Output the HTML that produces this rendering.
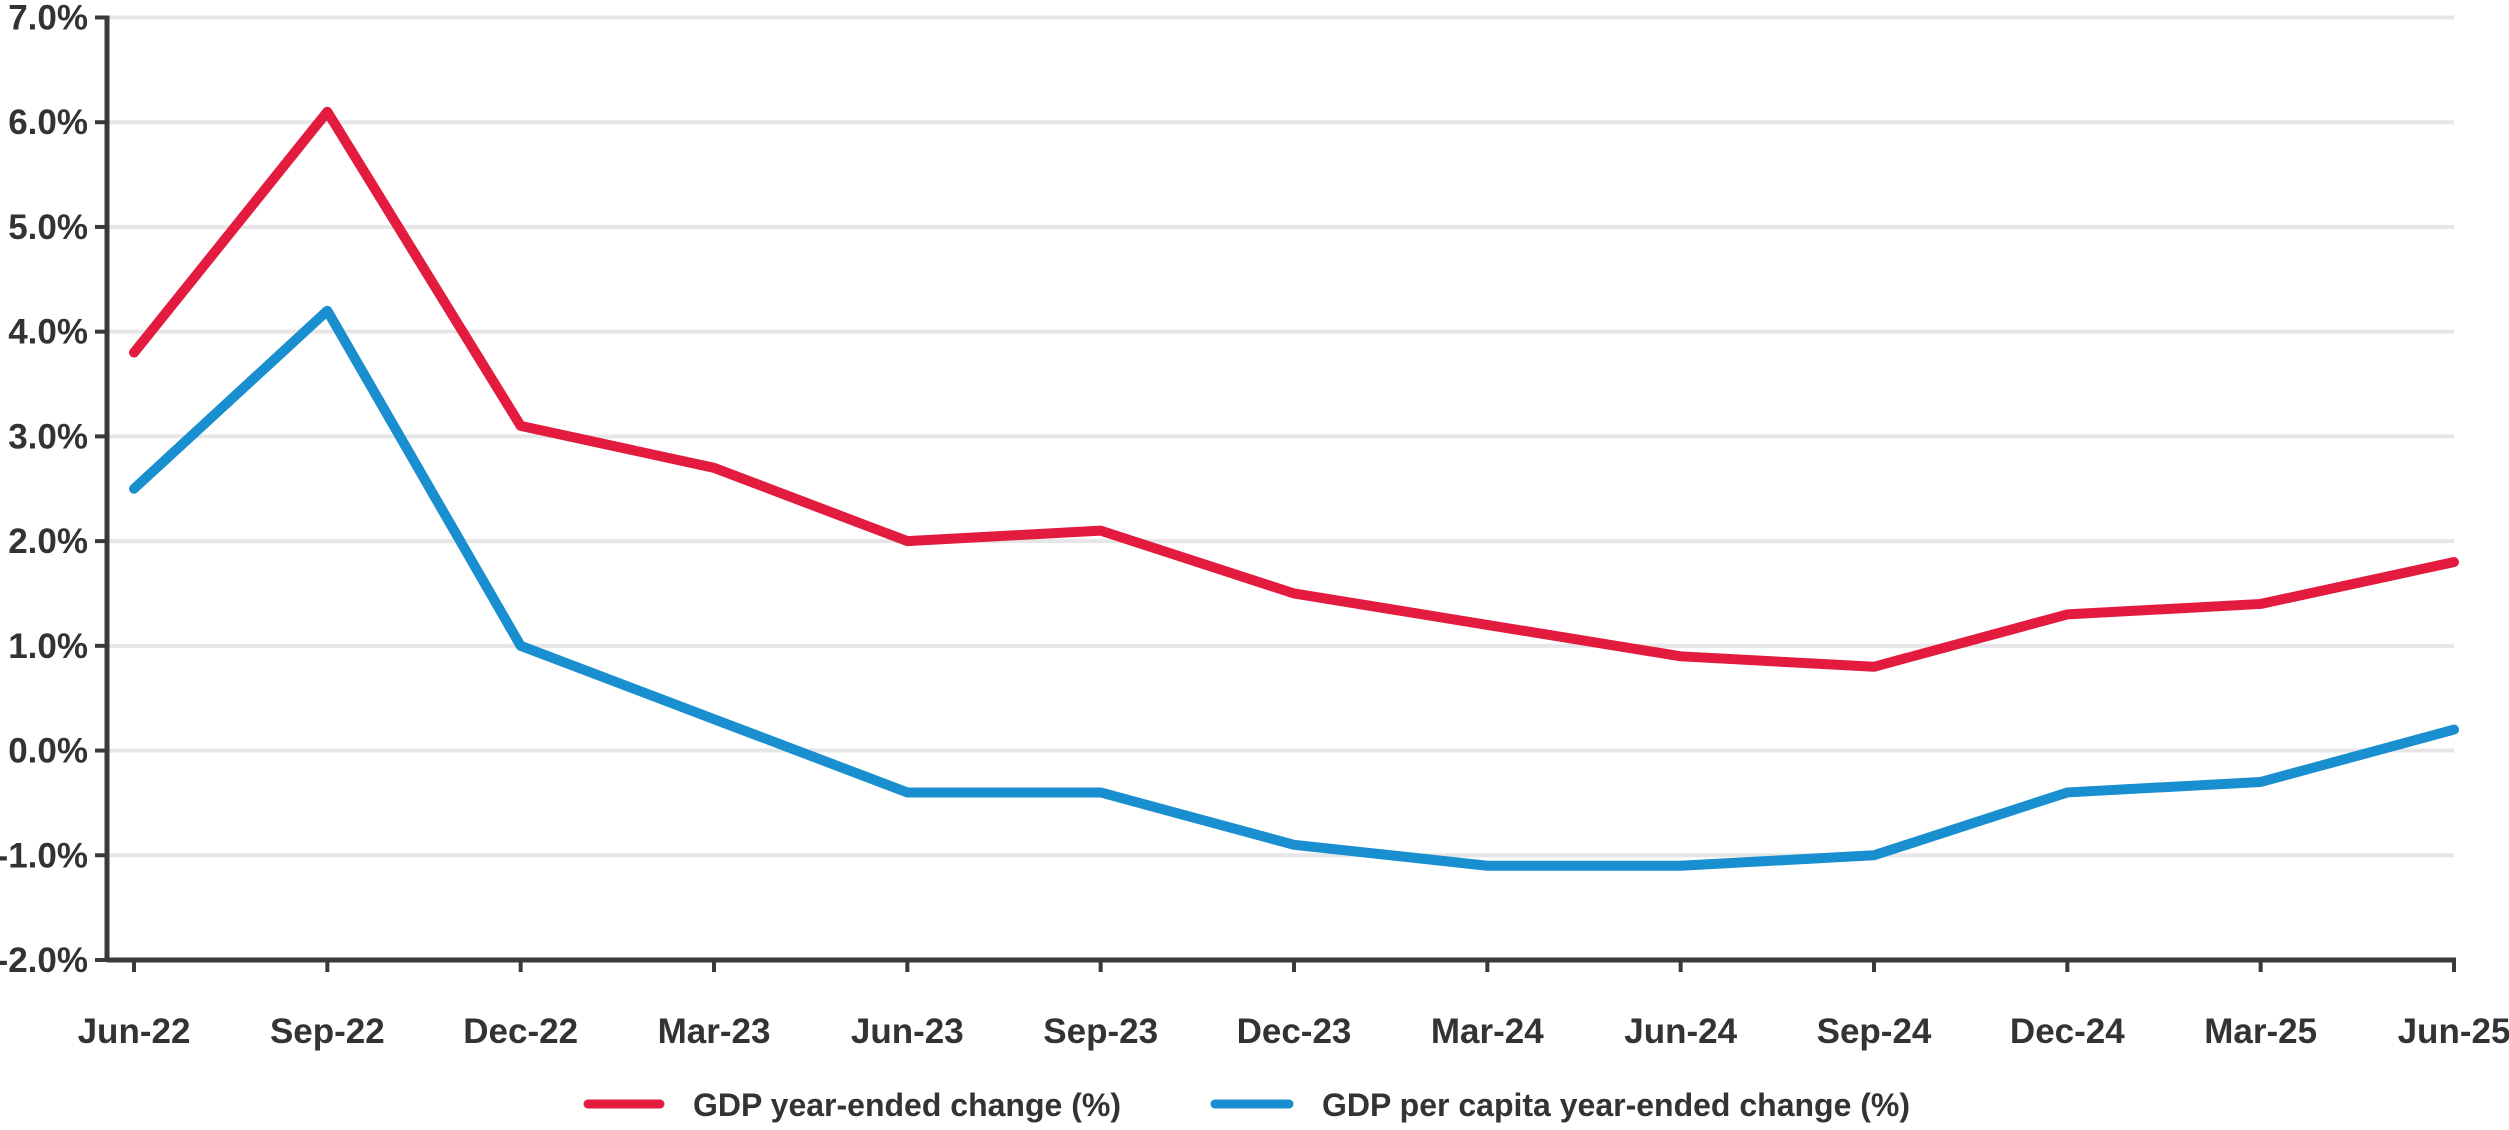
<!DOCTYPE html>
<html><head><meta charset="utf-8"><style>
html,body{margin:0;padding:0;background:#fff;}
svg{display:block;font-family:"Liberation Sans",sans-serif;font-weight:bold;fill:#333;}
</style></head><body>
<svg id="chart" width="2509" height="1130" viewBox="0 0 2509 1130" xmlns="http://www.w3.org/2000/svg"></svg>
<script>
const categories=["Jun-22","Sep-22","Dec-22","Mar-23","Jun-23","Sep-23","Dec-23","Mar-24","Jun-24","Sep-24","Dec-24","Mar-25","Jun-25"];
const gdpValues=[3.8,6.1,3.1,2.7,2.0,2.1,1.5,1.2,0.9,0.8,1.3,1.4,1.8];
const gdpPerCapitaValues=[2.5,4.2,1.0,0.3,-0.4,-0.4,-0.9,-1.1,-1.1,-1.0,-0.4,-0.3,0.2];
const yTicks=[-2,-1,0,1,2,3,4,5,6,7];
const yTickLabels=["-2.0%","-1.0%","0.0%","1.0%","2.0%","3.0%","4.0%","5.0%","6.0%","7.0%"];
const seriesNames=["GDP year-ended change (%)","GDP per capita year-ended change (%)"];

const NS="http://www.w3.org/2000/svg";
const svg=document.getElementById('chart');
const axisX=107, x0=134, x1=2454, yTop=17.5, yBot=960;
function xs(i){return x0+(x1-x0)*i/(categories.length-1);}
function ys(v){return yBot-(v-(-2))*(yBot-yTop)/9;}
function mk(tag,attrs,parent){const e=document.createElementNS(NS,tag);for(const k in attrs)e.setAttribute(k,attrs[k]);(parent||svg).appendChild(e);return e;}

const grid=mk('g',{});


yTicks.forEach((t,i)=>{
  if(t>-2){const l=mk('line',{x1:axisX,x2:x1,y1:ys(t),y2:ys(t),stroke:'#e6e6e6','stroke-width':4},grid);
  
  }
  const tk=mk('line',{x1:axisX-12,x2:axisX,y1:ys(t),y2:ys(t),stroke:'#3a3a3a','stroke-width':4});
  
  
  const tx=mk('text',{x:88,y:ys(t)+12,'text-anchor':'end','font-size':35});
  tx.textContent=yTickLabels[i];
  
  
});
const ya=mk('line',{x1:axisX,x2:axisX,y1:yTop-2,y2:yBot+2,stroke:'#3a3a3a','stroke-width':5});


const xa=mk('line',{x1:axisX,x2:x1+2,y1:yBot,y2:yBot,stroke:'#3a3a3a','stroke-width':5});


categories.forEach((c,i)=>{
  const tk=mk('line',{x1:xs(i),x2:xs(i),y1:yBot,y2:yBot+12,stroke:'#3a3a3a','stroke-width':4});
  
  
  const tx=mk('text',{x:xs(i),y:1043,'text-anchor':'middle','font-size':35});
  tx.textContent=c;
  
  
});
function line(vals,color,name){
  const p=mk('polyline',{points:vals.map((v,i)=>xs(i)+','+ys(v)).join(' '),fill:'none',stroke:color,'stroke-width':10,'stroke-linejoin':'round','stroke-linecap':'round'});
  
  
}
line(gdpValues,'#e31b3f','gdp-line');
line(gdpPerCapitaValues,'#1a8fd0','gdp-per-capita-line');

const lg=mk('g',{});


const l1=mk('line',{x1:588,x2:660,y1:1104,y2:1104,stroke:'#e31b3f','stroke-width':9,'stroke-linecap':'round'},lg);


const t1=mk('text',{x:693,y:1116,'font-size':32},lg);
t1.textContent=seriesNames[0];


const l2=mk('line',{x1:1215,x2:1289,y1:1104,y2:1104,stroke:'#1a8fd0','stroke-width':9,'stroke-linecap':'round'},lg);


const t2=mk('text',{x:1322,y:1116,'font-size':32},lg);
t2.textContent=seriesNames[1];


</script>
</body></html>
